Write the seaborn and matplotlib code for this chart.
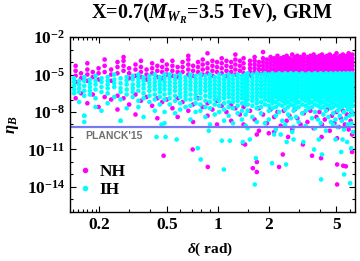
import pandas as pd
import seaborn as sns
import matplotlib
matplotlib.use("Agg")
import matplotlib.pyplot as plt

# delta (rad) columns and log10(eta_B) values
# ---- NH (magenta) ----
nh_delta = [0.145, 0.156, 0.17, 0.183, 0.198, 0.215, 0.235, 0.256, 0.278, 0.30,
            0.327, 0.352, 0.38, 0.41, 0.44, 0.47,
            0.50, 0.54, 0.58, 0.62, 0.67, 0.715, 0.765, 0.815, 0.87, 0.93,
            0.99, 1.055, 1.125, 1.20, 1.27, 1.35, 1.42,
            1.55, 1.65, 1.75, 1.85, 1.95, 2.05, 2.15, 2.25, 2.35, 2.45, 2.55,
            2.65, 2.75, 2.85, 2.95, 3.08, 3.22, 3.38, 3.52, 3.68, 3.82, 3.98,
            4.12, 4.28, 4.42, 4.58, 4.72, 4.88, 5.02, 5.18, 5.32, 5.48, 5.62,
            5.78, 5.92, 6.08, 6.22]
nh_logeta = [
    [-4.3, -4.7, -5.1, -5.6, -6.9], [-4.9, -5.3, -6.5], [-4.1, -4.6, -5.0, -5.5, -7.3],
    [-4.8, -5.2, -6.6], [-4.5, -4.9, -5.4, -7.6], [-3.8, -4.3, -4.8, -6.8],
    [-4.6, -5.0, -5.5, -7.0], [-4.0, -4.4, -4.9, -6.7, -7.8], [-3.6, -3.9, -4.3, -4.7, -6.9],
    [-4.5, -4.9, -5.3, -7.4], [-4.2, -4.6, -5.1, -6.6, -8.2], [-3.9, -4.4, -4.8, -5.2, -7.1],
    [-4.6, -5.0, -5.4, -6.8], [-4.1, -4.5, -4.9, -7.5], [-4.3, -4.7, -5.2, -6.9, -8.5],
    [-3.9, -4.4, -4.8, -5.3, -7.2],
    [-4.2, -4.6, -5.0, -7.0], [-3.9, -4.3, -4.7, -5.1, -7.7], [-4.4, -4.8, -5.2, -6.9, -8.4],
    [-4.0, -4.4, -4.8, -7.2], [-3.5, -3.8, -4.2, -4.6, -5.0, -7.9], [-4.3, -4.7, -5.1, -7.4, -8.8],
    [-4.0, -4.4, -4.8, -6.9], [-3.8, -4.2, -4.6, -5.0, -7.6], [-3.3, -4.1, -4.5, -4.9, -7.3, -8.3],
    [-3.9, -4.3, -4.7, -5.1, -7.8], [-4.0, -4.4, -4.8, -7.1, -9.0], [-3.7, -4.1, -4.5, -4.9, -7.5],
    [-3.9, -4.3, -4.7, -5.1, -8.0], [-4.0, -4.4, -4.8, -7.4, -8.7], [-3.4, -3.8, -4.2, -4.6, -5.0, -7.7],
    [-3.9, -4.3, -4.7, -8.2], [-3.7, -4.1, -4.5, -4.9, -7.6, -9.0],
    [-3.9, -4.2, -4.5, -4.8, -5.1, -7.9], [-3.6, -3.9, -4.2, -4.5, -4.8, -8.6],
    [-4.0, -4.3, -4.6, -4.9, -7.7, -9.5], [-3.2, -3.7, -4.0, -4.3, -4.6, -4.9, -8.2],
    [-3.8, -4.1, -4.4, -4.7, -5.0, -8.9], [-3.6, -3.9, -4.2, -4.5, -4.8, -7.8],
    [-3.7, -4.0, -4.3, -4.6, -4.9, -8.4, -9.6], [-3.5, -3.8, -4.1, -4.4, -4.7, -5.0, -8.0],
    [-3.7, -4.0, -4.3, -4.6, -4.9, -9.1], [-3.6, -3.9, -4.2, -4.5, -4.8, -7.9],
    [-3.5, -3.8, -4.1, -4.4, -4.7, -5.0, -8.7], [-3.7, -4.0, -4.3, -4.6, -4.9, -8.3],
    [-3.4, -3.8, -4.1, -4.4, -4.7, -9.4], [-3.6, -3.9, -4.2, -4.5, -4.8, -7.8],
    [-3.5, -3.8, -4.1, -4.4, -4.7, -5.0, -8.5], [-3.6, -3.9, -4.2, -4.5, -4.8, -9.0],
    [-3.4, -3.7, -4.0, -4.3, -4.6, -4.9, -8.1], [-3.6, -3.9, -4.2, -4.5, -4.8, -8.8],
    [-3.5, -3.8, -4.1, -4.4, -4.7, -5.0, -7.9], [-3.4, -3.7, -4.0, -4.3, -4.6, -4.9, -9.3],
    [-3.6, -3.9, -4.2, -4.5, -4.8, -8.4], [-3.5, -3.8, -4.1, -4.4, -4.7, -5.0, -8.0],
    [-3.4, -3.7, -4.0, -4.3, -4.6, -4.9, -9.0], [-3.6, -3.9, -4.2, -4.5, -4.8, -8.6],
    [-3.5, -3.8, -4.1, -4.4, -4.7, -5.0, -7.8], [-3.4, -3.7, -4.0, -4.3, -4.6, -4.9, -9.5],
    [-3.6, -3.9, -4.2, -4.5, -4.8, -8.3], [-3.5, -3.8, -4.1, -4.4, -4.7, -5.0, -8.9],
    [-3.3, -3.7, -4.0, -4.3, -4.6, -4.9, -8.0], [-3.6, -3.9, -4.2, -4.5, -4.8, -9.2],
    [-3.5, -3.8, -4.1, -4.4, -4.7, -5.0, -8.5], [-3.4, -3.7, -4.0, -4.3, -4.6, -4.9, -7.9],
    [-3.6, -3.9, -4.2, -4.5, -4.8, -9.0], [-3.5, -3.8, -4.1, -4.4, -4.7, -5.0, -8.2],
    [-3.3, -3.6, -3.9, -4.2, -4.5, -4.8, -9.4], [-3.5, -3.8, -4.1, -4.4, -4.7, -5.0, -8.7],
    [-3.4, -3.7, -4.0, -4.3, -4.6, -4.9, -8.1],
]
# NH points below the Planck line
nh_low_delta = [0.479, 0.711, 0.873, 1.41, 1.45, 1.70, 1.70, 1.61, 1.70, 2.30, 2.0, 2.6,
                2.42, 3.18, 3.6, 4.07, 4.1, 5.06, 5.5, 5.7, 5.06, 6.2, 5.06, 6.2]
nh_low_logeta = [-11.5, -11.0, -12.4, -10.5, -10.6, -9.8, -12.0, -12.5, -12.8, -12.4, -9.7, -10.0,
                 -11.4, -10.6, -11.5, -11.7, -10.0, -12.2, -12.3, -12.35, -13.8, -11.2, -10.1, -9.8]

# ---- IH (cyan) ----
ih_delta = [0.142, 0.152, 0.163, 0.176, 0.19, 0.206, 0.224, 0.245, 0.267, 0.29,
            0.315, 0.34, 0.365, 0.395, 0.425, 0.455, 0.485,
            0.52, 0.56, 0.60, 0.645, 0.69, 0.74, 0.79, 0.845, 0.90, 0.96,
            1.02, 1.09, 1.16, 1.23, 1.31, 1.39, 1.46,
            1.50, 1.60, 1.70, 1.80, 1.90, 2.00, 2.10, 2.20, 2.30, 2.40, 2.50,
            2.60, 2.70, 2.80, 2.90, 3.00, 3.15, 3.30, 3.45, 3.60, 3.75, 3.90,
            4.05, 4.20, 4.35, 4.50, 4.65, 4.80, 4.95, 5.10, 5.25, 5.40, 5.55,
            5.70, 5.85, 6.00, 6.15, 6.28]
ih_logeta = [
    [-5.3, -5.6, -5.9, -6.2, -6.5], [-5.5, -5.8, -6.1, -6.4, -7.2],
    [-5.2, -5.5, -5.9, -6.3, -6.7, -8.3, -8.8], [-5.4, -5.7, -6.0, -6.3, -6.6],
    [-5.1, -5.5, -5.8, -6.2, -6.9, -7.6], [-5.3, -5.6, -6.0, -6.4, -7.9],
    [-5.2, -5.5, -5.8, -6.1, -6.5, -7.3], [-5.0, -5.4, -5.7, -6.0, -6.8],
    [-5.3, -5.7, -6.1, -6.4, -7.0, -8.7], [-5.2, -5.5, -5.8, -6.2, -6.6, -7.7],
    [-5.1, -5.4, -5.8, -6.1, -6.4, -6.8], [-5.0, -5.3, -5.6, -5.9, -6.3, -7.1, -7.6],
    [-5.2, -5.5, -5.8, -6.1, -6.5, -6.9, -8.4], [-5.1, -5.4, -5.7, -6.0, -6.3, -6.7, -7.2],
    [-5.0, -5.3, -5.6, -5.9, -6.2, -6.6, -7.0, -7.9], [-5.2, -5.5, -5.8, -6.1, -6.4, -6.8, -7.4],
    [-5.0, -5.3, -5.6, -5.9, -6.2, -6.6, -7.0, -8.0, -8.9],
    [-5.0, -5.3, -5.6, -5.9, -6.2, -6.5, -6.9, -7.4], [-5.1, -5.4, -5.7, -6.0, -6.3, -6.7, -7.1, -8.1],
    [-5.0, -5.3, -5.6, -5.9, -6.2, -6.5, -6.8, -7.3, -7.8], [-5.2, -5.5, -5.8, -6.1, -6.4, -6.7, -7.0, -7.6],
    [-5.0, -5.3, -5.6, -5.9, -6.2, -6.6, -7.0, -7.5, -8.6], [-5.1, -5.4, -5.7, -6.0, -6.3, -6.6, -6.9, -7.3, -8.0],
    [-5.0, -5.3, -5.6, -5.9, -6.2, -6.5, -6.9, -7.4, -7.9], [-5.1, -5.4, -5.7, -6.0, -6.3, -6.7, -7.1, -7.6, -8.4],
    [-5.0, -5.3, -5.6, -5.9, -6.2, -6.5, -6.8, -7.2, -7.7, -9.0], [-5.2, -5.5, -5.8, -6.1, -6.4, -6.7, -7.0, -7.4, -8.2],
    [-5.0, -5.3, -5.6, -5.9, -6.2, -6.5, -6.8, -7.1, -7.5, -8.0], [-5.1, -5.4, -5.7, -6.0, -6.3, -6.6, -6.9, -7.3, -7.8, -8.7],
    [-5.0, -5.3, -5.6, -5.9, -6.2, -6.5, -6.8, -7.2, -7.6, -8.3], [-5.1, -5.4, -5.7, -6.0, -6.3, -6.6, -6.9, -7.2, -7.7, -8.9],
    [-5.0, -5.3, -5.6, -5.9, -6.2, -6.5, -6.8, -7.1, -7.5, -8.1], [-5.1, -5.4, -5.7, -6.0, -6.3, -6.6, -6.9, -7.3, -7.9, -8.6],
    [-5.0, -5.3, -5.6, -5.9, -6.2, -6.5, -6.8, -7.1, -7.4, -8.2, -9.1],
    [-4.9, -5.2, -5.5, -5.8, -6.1, -6.4, -6.7, -7.0, -7.4, -7.9, -9.3],
    [-5.0, -5.3, -5.6, -5.9, -6.2, -6.5, -6.8, -7.1, -7.5, -8.4],
    [-4.9, -5.2, -5.5, -5.8, -6.1, -6.4, -6.7, -7.0, -7.3, -7.7, -8.8],
    [-5.0, -5.3, -5.6, -5.9, -6.2, -6.5, -6.8, -7.2, -7.6, -8.1],
    [-4.9, -5.2, -5.5, -5.8, -6.1, -6.4, -6.7, -7.0, -7.4, -8.9],
    [-5.0, -5.3, -5.6, -5.9, -6.2, -6.5, -6.8, -7.1, -7.5, -7.9, -8.6],
    [-4.9, -5.2, -5.5, -5.8, -6.1, -6.4, -6.7, -7.0, -7.3, -7.7],
    [-5.0, -5.3, -5.6, -5.9, -6.2, -6.5, -6.8, -7.2, -7.6, -8.3, -9.4],
    [-4.9, -5.2, -5.5, -5.8, -6.1, -6.4, -6.7, -7.0, -7.4, -8.0],
    [-5.0, -5.3, -5.6, -5.9, -6.2, -6.5, -6.8, -7.1, -7.5, -8.7],
    [-4.9, -5.2, -5.5, -5.8, -6.1, -6.4, -6.7, -7.0, -7.3, -7.8, -9.0],
    [-5.0, -5.3, -5.6, -5.9, -6.2, -6.5, -6.8, -7.2, -7.6, -8.2],
    [-4.9, -5.2, -5.5, -5.8, -6.1, -6.4, -6.7, -7.0, -7.4, -8.5],
    [-5.0, -5.3, -5.6, -5.9, -6.2, -6.5, -6.8, -7.1, -7.5, -7.9, -9.2],
    [-4.9, -5.2, -5.5, -5.8, -6.1, -6.4, -6.7, -7.0, -7.3, -7.7, -8.4],
    [-5.0, -5.3, -5.6, -5.9, -6.2, -6.5, -6.8, -7.2, -7.6, -8.8],
    [-4.9, -5.2, -5.5, -5.8, -6.1, -6.4, -6.7, -7.0, -7.4, -8.1],
    [-5.0, -5.3, -5.6, -5.9, -6.2, -6.5, -6.8, -7.1, -7.5, -7.9, -9.1],
    [-4.9, -5.2, -5.5, -5.8, -6.1, -6.4, -6.7, -7.0, -7.3, -7.7],
    [-5.0, -5.3, -5.6, -5.9, -6.2, -6.5, -6.8, -7.2, -7.6, -8.5],
    [-4.9, -5.2, -5.5, -5.8, -6.1, -6.4, -6.7, -7.0, -7.4, -8.0, -9.3],
    [-5.0, -5.3, -5.6, -5.9, -6.2, -6.5, -6.8, -7.1, -7.5, -8.6],
    [-4.9, -5.2, -5.5, -5.8, -6.1, -6.4, -6.7, -7.0, -7.3, -7.7, -8.9],
    [-5.0, -5.3, -5.6, -5.9, -6.2, -6.5, -6.8, -7.2, -7.6, -8.2],
    [-4.9, -5.2, -5.5, -5.8, -6.1, -6.4, -6.7, -7.0, -7.4, -7.9, -9.5],
    [-5.0, -5.3, -5.6, -5.9, -6.2, -6.5, -6.8, -7.1, -7.5, -8.4],
    [-4.9, -5.2, -5.5, -5.8, -6.1, -6.4, -6.7, -7.0, -7.3, -7.7, -8.8],
    [-5.0, -5.3, -5.6, -5.9, -6.2, -6.5, -6.8, -7.2, -7.6, -8.1, -9.0],
    [-4.9, -5.2, -5.5, -5.8, -6.1, -6.4, -6.7, -7.0, -7.4, -8.6],
    [-5.0, -5.3, -5.6, -5.9, -6.2, -6.5, -6.8, -7.1, -7.5, -7.9, -9.2],
    [-4.9, -5.2, -5.5, -5.8, -6.1, -6.4, -6.7, -7.0, -7.3, -7.7, -8.3],
    [-5.0, -5.3, -5.6, -5.9, -6.2, -6.5, -6.8, -7.2, -7.6, -8.7],
    [-4.9, -5.2, -5.5, -5.8, -6.1, -6.4, -6.7, -7.0, -7.4, -8.0, -9.4],
    [-5.0, -5.3, -5.6, -5.9, -6.2, -6.5, -6.8, -7.1, -7.5, -8.5],
    [-4.9, -5.2, -5.5, -5.8, -6.1, -6.4, -6.7, -7.0, -7.3, -7.8, -9.0],
    [-5.0, -5.3, -5.6, -5.9, -6.2, -6.5, -6.8, -7.2, -7.6, -8.3],
    [-4.9, -5.2, -5.5, -5.8, -6.1, -6.4, -6.7, -7.0, -7.4, -7.9, -8.9],
    [-5.0, -5.3, -5.6, -5.9, -6.2, -6.5, -6.8, -7.1, -7.5, -8.2, -9.6],
]
# IH points near and below the Planck line
ih_low_delta = [0.163, 0.267, 0.466, 0.435, 0.492, 0.572, 0.762, 0.793, 1.086, 1.056, 1.178,
                1.406, 1.546, 1.678, 1.655, 2.09, 2.53, 4.12, 5.57, 4.07, 5.35, 6.12, 0.885,
                6.04, 2.55, 2.80, 3.20, 3.70, 3.95, 4.95, 5.45, 5.80, 2.15, 2.35, 2.75]
ih_low_logeta = [-8.3, -8.7, -9.0, -10.0, -10.0, -10.2, -10.9, -11.8, -12.6, -10.3, -10.3,
                 -10.4, -10.2, -11.7, -13.8, -12.1, -12.2, -11.4, -13.0, -13.4, -11.2, -10.9, -9.5,
                 -13.7, -10.4, -10.2, -10.4, -11.0, -10.2, -10.2, -10.2, -10.4, -9.8, -9.8, -9.6]

planck_eta = 6.1e-10

rows = []
for d, col in zip(nh_delta, nh_logeta):
    for v in col:
        rows.append(("NH", d, v))
for d, v in zip(nh_low_delta, nh_low_logeta):
    rows.append(("NH", d, v))
for d, col in zip(ih_delta, ih_logeta):
    for v in col:
        rows.append(("IH", d, v))
for d, v in zip(ih_low_delta, ih_low_logeta):
    rows.append(("IH", d, v))
df = pd.DataFrame(rows, columns=["hier", "delta", "logeta"])
df["eta"] = 10.0 ** df["logeta"]

sns.set_style("ticks")
plt.rcParams["font.family"] = ["Liberation Serif", "DejaVu Serif"]
plt.rcParams["font.weight"] = "bold"
plt.rcParams["text.color"] = "black"
plt.rcParams["axes.labelcolor"] = "black"
plt.rcParams["xtick.color"] = "black"
plt.rcParams["ytick.color"] = "black"
plt.rcParams["mathtext.fontset"] = "custom"
plt.rcParams["mathtext.rm"] = "Liberation Serif:bold"
plt.rcParams["mathtext.it"] = "Liberation Serif:italic:bold"
plt.rcParams["mathtext.bf"] = "Liberation Serif:bold"

fig = plt.figure(figsize=(3.6, 2.61), dpi=100)
ax = fig.add_axes([0.194, 0.188, 0.792, 0.670])
ax.set_xscale("log")
ax.set_yscale("log")

sns.scatterplot(data=df, x="delta", y="eta", hue="hier",
                palette={"NH": "#ff00ff", "IH": "#00ffff"},
                s=11, linewidth=0, ax=ax)
ax.axhline(planck_eta, color="#7878f0", lw=1.6)
ax.text(0.166, 1.2e-10, "PLANCK'15", fontsize=7.5, color="#707070",
        family="Liberation Sans", fontweight="bold", va="center")

ax.set_xlim(0.134, 6.45)
ax.set_ylim(1e-16, 1e-2)
ax.set_xticks([0.2, 0.5, 1, 2, 5], labels=["0.2", "0.5", "1", "2", "5"])
ax.set_xticks([0.14, 0.15, 0.16, 0.17, 0.18, 0.19, 0.3, 0.4, 0.6, 0.7, 0.8, 0.9,
               1.5, 3, 4, 6], minor=True)
ax.set_xticklabels([], minor=True)
ax.set_yticks([1e-2, 1e-5, 1e-8, 1e-11, 1e-14],
              labels=[r"$10^{-2}$", r"$10^{-5}$", r"$10^{-8}$", r"$10^{-11}$", r"$10^{-14}$"])
ax.set_yticks([10.0 ** k for k in range(-16, -1)], minor=True)
ax.set_yticklabels([], minor=True)
ax.tick_params(which="both", direction="in", top=True, right=True, labelsize=12.5, width=0.8)
ax.tick_params(which="major", length=4)
ax.tick_params(which="minor", length=2)
for sp in ax.spines.values():
    sp.set_linewidth(1.0)
    sp.set_color("black")

ax.set_xlabel("")
ax.set_ylabel("")
fig.text(0.589, 1 - 14 / 261, r"X=0.7($M_{W_R}$=3.5 TeV), GRM", ha="center", va="center",
         fontsize=14.5, fontweight="bold")
fig.text(0.583, 1 - 249 / 261, r"$\delta$( rad)", ha="center", va="center", fontsize=11)
fig.text(0.035, 1 - 125 / 261, r"$\eta_B$", ha="center", va="center", rotation=90, fontsize=12)

ax.legend(loc="lower left", bbox_to_anchor=(0.0, 0.04), frameon=False,
          prop={"size": 12.5, "weight": "bold"}, handletextpad=0.3, labelspacing=0.1,
          borderaxespad=0, handlelength=1.0, markerscale=1.2)

fig.savefig("out.png", dpi=100)
